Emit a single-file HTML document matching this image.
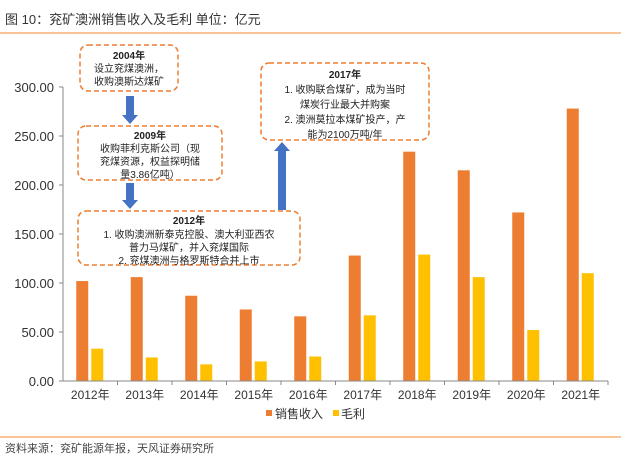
<!DOCTYPE html>
<html><head><meta charset="utf-8"><style>
body{margin:0;background:#fff;width:621px;height:467px;overflow:hidden;font-family:"Liberation Sans","Noto Sans CJK SC",sans-serif}
</style></head><body>
<svg width="621" height="467" xmlns="http://www.w3.org/2000/svg" font-family="Liberation Sans, Noto Sans CJK SC, sans-serif">
<text x="5" y="24" font-size="13" fill="#333">图 10：兖矿澳洲销售收入及毛利 单位：亿元</text>
<line x1="0" y1="33" x2="621" y2="33" stroke="#f5a05a" stroke-width="1.2"/>
<g id="yaxis"></g>
<g id="bars"></g>
<g id="xaxis"></g>
<g font-size="10" fill="#222" text-anchor="middle">
<rect x="80" y="45" width="98" height="46" rx="8" fill="#fff" stroke="#ed7d31" stroke-width="1.5" stroke-dasharray="5,3"/>
<text x="129" y="59" font-weight="bold">2004年</text><text x="129" y="72">设立兖煤澳洲，</text><text x="129" y="85">收购澳斯达煤矿</text>
<polygon points="126,96 134,96 134,115 138,115 130,124 122,115 126,115" fill="#4472c4"/>
<rect x="78" y="126" width="144" height="54" rx="8" fill="#fff" stroke="#ed7d31" stroke-width="1.5" stroke-dasharray="5,3"/>
<text x="150" y="139" font-weight="bold">2009年</text><text x="150" y="152">收购菲利克斯公司（现</text><text x="150" y="165">兖煤资源，权益探明储</text><text x="150" y="178">量3.86亿吨）</text>
<polygon points="126,183 134,183 134,200 138,200 130,209 122,200 126,200" fill="#4472c4"/>
<rect x="78" y="211" width="222" height="54" rx="8" fill="#fff" stroke="#ed7d31" stroke-width="1.5" stroke-dasharray="5,3"/>
<text x="189" y="224" font-weight="bold">2012年</text><text x="189" y="238">1. 收购澳洲新泰克控股、澳大利亚西农</text><text x="189" y="251">普力马煤矿，并入兖煤国际</text><text x="189" y="264">2. 兖煤澳洲与格罗斯特合并上市</text>
<rect x="261" y="63" width="168" height="77" rx="8" fill="#fff" stroke="#ed7d31" stroke-width="1.5" stroke-dasharray="5,3"/>
<text x="345" y="78" font-weight="bold">2017年</text><text x="345" y="93">1. 收购联合煤矿，成为当时</text><text x="345" y="108">煤炭行业最大并购案</text><text x="345" y="123">2. 澳洲莫拉本煤矿投产，产</text><text x="345" y="138">能为2100万吨/年</text>
<polygon points="278,210 286,210 286,151 290,151 282,142 274,151 278,151" fill="#4472c4"/>
</g>
<g font-size="12" fill="#333">
<rect x="266" y="410" width="6" height="6" fill="#ed7d31"/><text x="275" y="418">销售收入</text>
<rect x="333" y="410" width="6" height="6" fill="#ffc000"/><text x="341" y="418">毛利</text>
</g>
<line x1="0" y1="437" x2="621" y2="437" stroke="#f5a05a" stroke-width="1.2"/>
<text x="5" y="452" font-size="11" fill="#444">资料来源：兖矿能源年报，天风证券研究所</text>
</svg>
<script>
const categories=["2012年","2013年","2014年","2015年","2016年","2017年","2018年","2019年","2020年","2021年"];
const revenue=[102,106,87,73,66,128,234,215,172,278];
const grossProfit=[33,24,17,20,25,67,129,106,52,110];
const yTicks=[0,50,100,150,200,250,300];
const NS="http://www.w3.org/2000/svg";
const x0=63,step=54.5,yBase=381,yTop=87,yMax=300;
const y=v=>yBase-(v/yMax)*(yBase-yTop);
function mk(t,a,p){const e=document.createElementNS(NS,t);for(const k in a)e.setAttribute(k,a[k]);p.appendChild(e);return e;}
const ya=document.getElementById('yaxis'),bg=document.getElementById('bars'),xa=document.getElementById('xaxis');
mk('line',{x1:x0,y1:yTop,x2:x0,y2:yBase,stroke:'#888'},ya);
yTicks.forEach(t=>{
 mk('line',{x1:x0-4,y1:y(t),x2:x0,y2:y(t),stroke:'#888'},ya);
 const tx=mk('text',{x:x0-9,y:y(t)+5,'font-size':'13','text-anchor':'end',fill:'#333'},ya);
 tx.textContent=t.toFixed(2);
 
 
});
mk('line',{x1:x0,y1:yBase,x2:x0+step*categories.length,y2:yBase,stroke:'#888'},xa);
categories.forEach((c,i)=>{
 const cx=x0+step*i+step/2;
 mk('line',{x1:x0+step*(i+1),y1:yBase,x2:x0+step*(i+1),y2:yBase+4,stroke:'#888'},xa);
 const tx=mk('text',{x:cx,y:yBase+18,'font-size':'12','text-anchor':'middle',fill:'#333'},xa);
 tx.textContent=c;
 
 
 const r1=mk('rect',{x:cx-14,y:y(revenue[i]),width:12,height:yBase-y(revenue[i]),fill:'#ed7d31'},bg);
 
 
 const r2=mk('rect',{x:cx+1,y:y(grossProfit[i]),width:12,height:yBase-y(grossProfit[i]),fill:'#ffc000'},bg);
 
 
});
</script>
</body></html>
